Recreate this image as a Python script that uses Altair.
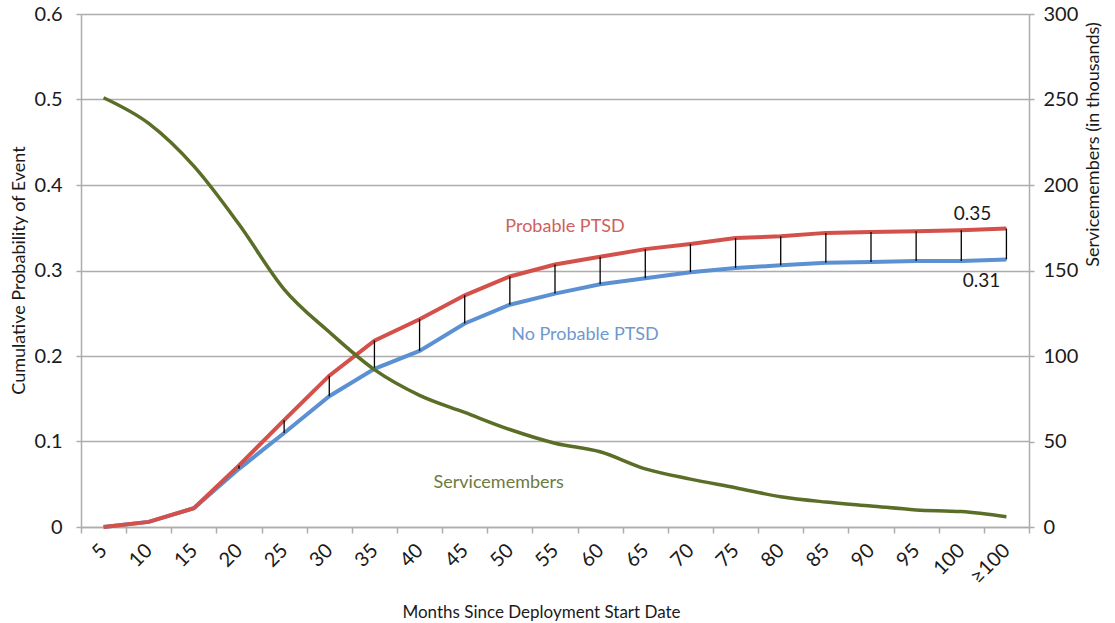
import altair as alt
import pandas as pd

months = ["5", "10", "15", "20", "25", "30", "35", "40", "45", "50", "55",
          "60", "65", "70", "75", "80", "85", "90", "95", "100", "≥100"]
probable_ptsd = [0.000, 0.006, 0.022, 0.072, 0.125, 0.177, 0.218, 0.243, 0.271, 0.293, 0.307,
                 0.316, 0.325, 0.331, 0.338, 0.340, 0.344, 0.345, 0.346, 0.347, 0.349]
no_probable_ptsd = [0.000, 0.006, 0.022, 0.068, 0.110, 0.153, 0.185, 0.206, 0.238, 0.260, 0.273,
                    0.284, 0.291, 0.298, 0.303, 0.306, 0.309, 0.310, 0.311, 0.311, 0.313]
servicemembers = [251, 236, 211, 177, 139, 114, 92, 77, 67, 57, 49,
                  44, 34, 28, 23, 17.7, 14.6, 12.3, 10, 9, 6]

left_ticks = [0, 0.1, 0.2, 0.3, 0.4, 0.5, 0.6]
right_ticks = [0, 50, 100, 150, 200, 250, 300]

series_names = ["Probable PTSD", "No Probable PTSD", "Servicemembers"]
series_label_months = ["55", "55", "45"]
series_label_values = [0.351, 0.2246, 0.0515]

df = pd.DataFrame({
    "month": months,
    "probable": probable_ptsd,
    "noprob": no_probable_ptsd,
    "members": servicemembers,
})
last = df.iloc[[-1]]

lbl = pd.DataFrame({
    "name": series_names,
    "month": series_label_months,
    "value": series_label_values,
})

FONT = "Lato"
RED = "#D4504A"
BLUE = "#5B90D2"
GREEN = "#5B6E28"
GRID = "#ADADAD"
INK = "#1a1a1a"

xscale = alt.Scale(type="band", domain=months, paddingInner=0, paddingOuter=0)
x_axis = alt.Axis(
    title="Months Since Deployment Start Date",
    labelAngle=315, labelAlign="right", labelBaseline="middle",
    labelFontSize=20, labelFont=FONT, labelColor=INK, labelPadding=14,
    tickBand="extent", tickSize=6, tickColor=GRID, tickWidth=1.5,
    domainColor=GRID, domainWidth=1.5, grid=False,
    titleFont=FONT, titleFontSize=17, titleFontWeight="normal", titleColor=INK,
    titleX=460, titleY=90, titleAlign="center", titleBaseline="alphabetic",
)


def X():
    return alt.X("month:O", scale=xscale, bandPosition=0.5, axis=x_axis)


lscale = alt.Scale(domain=[0, 0.6], nice=False)
left_axis = alt.Axis(
    title="Cumulative Probability of Event", values=left_ticks, format="~g", orient="left",
    labelFontSize=20, labelFont=FONT, labelColor=INK, labelPadding=14,
    tickSize=5, tickColor=GRID, tickWidth=1.5,
    domainColor=GRID, domainWidth=1.5,
    grid=True, gridColor=GRID, gridWidth=1.5,
    titleFont=FONT, titleFontSize=18, titleFontWeight="normal", titleColor=INK,
    titleAngle=270, titleX=-62, titleY=256, titleAlign="center", titleBaseline="middle",
)


def YL(field):
    return alt.Y(field, type="quantitative", scale=lscale, axis=left_axis)


blue = alt.Chart(df).mark_line(color=BLUE, strokeWidth=4).encode(x=X(), y=YL("noprob"))
red = alt.Chart(df).mark_line(color=RED, strokeWidth=4).encode(x=X(), y=YL("probable"))
rules = alt.Chart(df).transform_filter("datum.probable > datum.noprob").mark_rule(
    color="black", strokeWidth=1.3).encode(x=X(), y=YL("noprob"), y2="probable:Q")

end_red = alt.Chart(last).mark_text(
    font=FONT, fontSize=19, color=INK, align="center", baseline="middle", dx=-34, dy=-15
).encode(x=X(), y=YL("probable"), text=alt.Text("probable:Q", format=".2f"))
end_blue = alt.Chart(last).mark_text(
    font=FONT, fontSize=19, color=INK, align="center", baseline="middle", dx=-25, dy=22
).encode(x=X(), y=YL("noprob"), text=alt.Text("noprob:Q", format=".2f"))


def series_label(i, color, dx):
    return alt.Chart(lbl.iloc[[i]]).mark_text(
        font=FONT, fontSize=18, color=color, align="center", baseline="middle", dx=dx
    ).encode(x=X(), y=YL("value"), text="name:N")


lab_red = series_label(0, "#D0605B", 10)
lab_blue = series_label(1, "#6F98CF", 30)
lab_green = series_label(2, "#6E7A3E", 34)

left_layer = alt.layer(blue, red, rules, end_red, end_blue, lab_red, lab_blue, lab_green)

right_axis = alt.Axis(
    title="Servicemembers (in thousands)", values=right_ticks, orient="right",
    labelFontSize=20, labelFont=FONT, labelColor=INK, labelPadding=9,
    tickSize=5, tickColor=GRID, tickWidth=1.5,
    domainColor=GRID, domainWidth=1.5, grid=False,
    titleFont=FONT, titleFontSize=18, titleFontWeight="normal", titleColor=INK,
    titleAngle=270, titleX=64, titleY=130, titleAlign="center", titleBaseline="middle",
)
green = alt.Chart(df).mark_line(color=GREEN, strokeWidth=3.5, interpolate="monotone").encode(
    x=X(), y=alt.Y("members:Q", scale=alt.Scale(domain=[0, 300], nice=False), axis=right_axis))

chart = alt.layer(left_layer, green).resolve_scale(y="independent").properties(
    width=948, height=513,
    autosize=alt.AutoSizeParams(type="none"),
    padding={"left": 81, "top": 14, "right": 86, "bottom": 96},
).configure_view(stroke=None).configure(background="white")

chart.save("out.html", embed_options={"renderer": "svg", "actions": False})
